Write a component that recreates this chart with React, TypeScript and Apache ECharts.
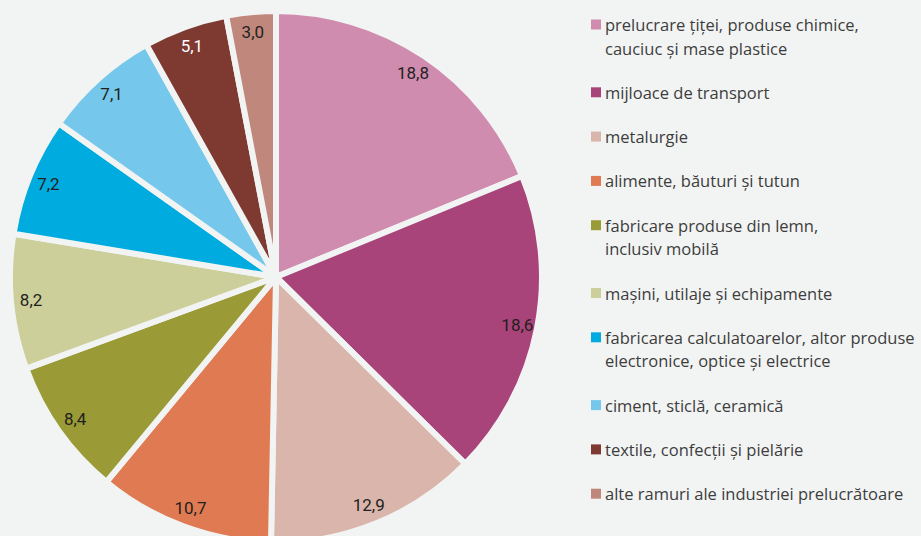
import React, { useEffect, useRef } from "react";
import * as echarts from "echarts";

const categories: string[] = [
  "prelucrare țiței, produse chimice,\ncauciuc și mase plastice",
  "mijloace de transport",
  "metalurgie",
  "alimente, băuturi și tutun",
  "fabricare produse din lemn,\ninclusiv mobilă",
  "mașini, utilaje și echipamente",
  "fabricarea calculatoarelor, altor produse\nelectronice, optice și electrice",
  "ciment, sticlă, ceramică",
  "textile, confecții și pielărie",
  "alte ramuri ale industriei prelucrătoare",
];

const values: number[] = [18.8, 18.6, 12.9, 10.7, 8.4, 8.2, 7.2, 7.1, 5.1, 3.0];

const colors: string[] = [
  "#cf8cae",
  "#a8447a",
  "#dab5ab",
  "#e07a52",
  "#9a9b37",
  "#cdcf9b",
  "#00acdf",
  "#75c8ec",
  "#7e3a31",
  "#c0877c",
];

const labelColors: string[] = [
  "#231f20",
  "#231f20",
  "#231f20",
  "#231f20",
  "#231f20",
  "#231f20",
  "#231f20",
  "#231f20",
  "#ffffff",
  "#231f20",
];

const BG = "#f2f4f3";

export default function App() {
  const ref = useRef<HTMLDivElement>(null);

  useEffect(() => {
    if (!ref.current) return;
    const chart = echarts.init(ref.current, null, { renderer: "svg" });

    const cx = 276;
    const cy = 277;
    const R = 266;

    const fmt = (v: number) => v.toFixed(1).replace(".", ",");

    // legend built with graphic elements
    const legendX = 591;
    const lineH = 23.5;
    const step = 44.3;
    const legendEls: any[] = [];
    let c = 24.5;
    categories.forEach((name, i) => {
      const lines = name.split("\n").length;
      legendEls.push({
        type: "rect",
        x: legendX,
        y: c - 5,
        shape: { x: 0, y: 0, width: 10, height: 10 },
        style: { fill: colors[i] },
        silent: true,
      });
      legendEls.push({
        type: "text",
        x: legendX + 14,
        y: c - lineH / 2,
        style: {
          text: name,
          fill: "#3d3d3d",
          font: '16.5px "Open Sans", sans-serif',
          lineHeight: lineH,
          verticalAlign: "top",
          align: "left",
        },
        silent: true,
      });
      c += step + (lines - 1) * lineH;
    });

    const data = categories.map((name, i) => ({
      name,
      value: values[i],
      itemStyle: { color: colors[i] },
    }));

    chart.setOption({
      animation: false,
      backgroundColor: BG,
      series: [
        {
          type: "pie",
          center: [cx, cy],
          radius: [0, R],
          startAngle: 90,
          clockwise: true,
          avoidLabelOverlap: false,
          silent: true,
          itemStyle: { borderColor: BG, borderWidth: 6 },
          label: { show: false },
          labelLine: { show: false },
          data,
        },
        {
          type: "pie",
          center: [cx, cy],
          radius: [R - 46, R],
          startAngle: 90,
          clockwise: true,
          avoidLabelOverlap: false,
          silent: true,
          itemStyle: { color: "rgba(0,0,0,0)", borderWidth: 0 },
          label: {
            show: true,
            position: "inside",
            formatter: (p: any) => fmt(p.value),
            fontSize: 17,
            fontWeight: "normal",
            fontFamily: 'Roboto, sans-serif',
          },
          labelLine: { show: false },
          data: categories.map((name, i) => ({
            name,
            value: values[i],
            label: { color: labelColors[i] },
          })),
        },
      ],
      graphic: legendEls,
    });

    return () => chart.dispose();
  }, []);

  return (
    <div
      ref={ref}
      style={{ position: "fixed", left: 0, top: 0, width: 921, height: 536, background: BG }}
    />
  );
}
